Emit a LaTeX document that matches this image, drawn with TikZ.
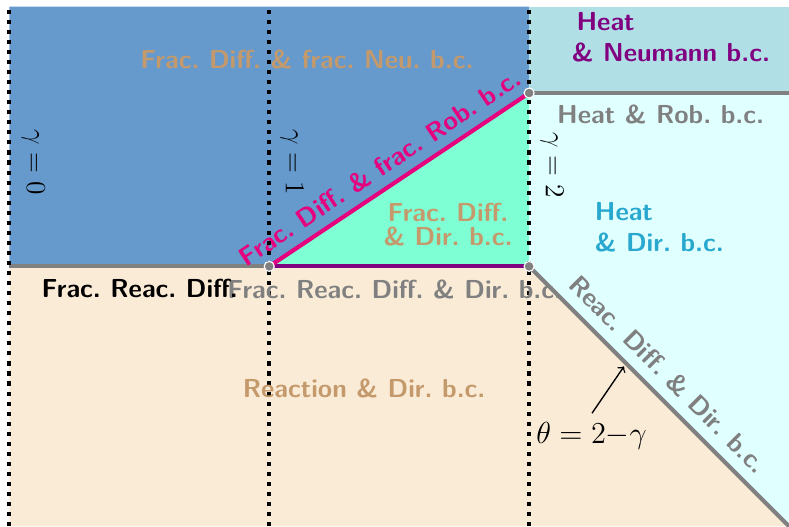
\documentclass[tikz,border=0pt]{standalone}
\usepackage{amsmath}
\definecolor{regblue}{RGB}{102,153,204}
\definecolor{regaqua}{RGB}{127,255,212}
\definecolor{regpowder}{RGB}{176,223,229}
\definecolor{regcyan}{RGB}{224,255,255}
\definecolor{regbisque}{RGB}{250,235,215}
\definecolor{tantext}{RGB}{196,154,108}
\definecolor{robmag}{RGB}{230,0,126}
\definecolor{dirblue}{RGB}{40,168,206}
\definecolor{neupurple}{RGB}{128,0,128}
\tikzset{
  bdry/.style={line width=1.8pt},
  gline/.style={line width=1.8pt, dash pattern=on 1.8pt off 2.6pt},
  lbl/.style={font=\fontsize{11.4}{13.5}\selectfont\sffamily\bfseries, inner sep=1.5pt},
  glbl/.style={font=\fontsize{12.5}{14}\selectfont, rotate=-90, inner sep=1.5pt},
}
\begin{document}
\begin{tikzpicture}[x=4cm, y=4cm]
  \useasboundingbox (-0.036,-1.000) rectangle (3.000,1.025);
  % regions
  \coordinate (A) at (1.000,0.000);
  \coordinate (B) at (2.000,0.000);
  \coordinate (C) at (2.000,0.667);
  \coordinate (D) at (3.000,-1.000);
  \coordinate (E) at (3.000,0.667);
  \fill[regblue] (0,0) -- (A) -- (C) -- (2,1) -- (0,1) -- cycle;
  \fill[regaqua] (A) -- (B) -- (C) -- cycle;
  \fill[regpowder] (C) -- (E) -- (3,1) -- (2,1) -- cycle;
  \fill[regcyan] (C) -- (E) -- (D) -- (B) -- cycle;
  \fill[regbisque] (0,0) -- (B) -- (D) -- (0,-1) -- cycle;
  % boundaries
  \draw[bdry, gray] (0,0) -- (A);
  \draw[bdry, neupurple] (A) -- (B);
  \draw[bdry, gray] (B) -- (D)
    node[lbl, pos=0.475, sloped, above=3pt, text=gray] (reacdir) {Reac.\ Diff.\ \& Dir.\ b.c.};
  \draw[bdry, gray] (C) -- (E);
  \draw[bdry, robmag] (A) -- (C)
    node[lbl, pos=0.47, sloped, above=2.5pt, text=robmag] (fracrob) {Frac.\ Diff.\ \& frac.\ Rob.\ b.c.};
  \foreach \g in {0,1,2}
    \draw[gline] (\g,-1) -- (\g,1);
  \foreach \p in {A,B,C}
    \fill[gray, draw=white, line width=0.5pt] (\p) circle (2.2pt);
  % gamma values
  \node[glbl] (g0) at (0.092,0.400) {$\gamma=0$};
  \node[glbl] (g1) at (1.088,0.400) {$\gamma=1$};
  \node[glbl] (g2) at (2.088,0.390) {$\gamma=2$};
  % region labels
  \node[lbl, text=tantext] (fracneu) at (1.145,0.795) {Frac.\ Diff.\ \& frac.\ Neu.\ b.c.};
  \node[lbl, text=neupurple, align=left, anchor=west] (heatneu) at (2.150,0.881) {\hspace{2pt}Heat\\\& Neumann b.c.};
  \node[lbl, text=gray] (heatrob) at (2.506,0.583) {Heat \& Rob.\ b.c.};
  \node[lbl, text=dirblue, align=left, anchor=west] (heatdir) at (2.238,0.152) {Heat\\\& Dir.\ b.c.};
  \node[lbl, text=tantext, align=center] (fracdir) at (1.688,0.161) {Frac.\ Diff.\\[-3pt]\& Dir.\ b.c.};
  \node[lbl, text=gray] (fracreacdir) at (1.483,-0.088) {Frac.\ Reac.\ Diff.\ \& Dir.\ b.c.};
  \node[lbl] (fracreac) at (0.502,-0.084) {Frac.\ Reac.\ Diff.};
  \node[lbl, text=tantext] (reaction) at (1.365,-0.468) {Reaction \& Dir.\ b.c.};
  % theta line
  \node[font=\large, scale=1.11, inner sep=1.5pt] (thetalbl) at (2.240,-0.653) {$\theta=2{-}\gamma$};
  \coordinate (arrowtail) at (2.242,-0.565);
  \coordinate (arrowtip) at (2.365,-0.385);
  \draw[->, line width=0.6pt] (arrowtail) -- (arrowtip);
\end{tikzpicture}
\end{document}
